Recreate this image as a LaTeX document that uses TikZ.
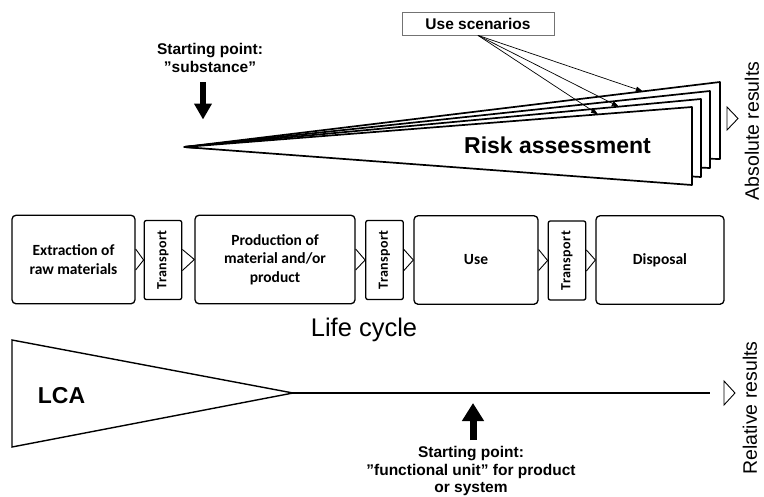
\documentclass[tikz,border=0pt]{standalone}
\usepackage{graphicx}
\usepackage{fontspec}
\setmainfont{Liberation Sans}
\newfontfamily\carl{Carlito}
\newfontfamily\carlsp[LetterSpace=3]{Carlito}
\usetikzlibrary{arrows.meta,calc}
\begin{document}
\begin{tikzpicture}[x=1pt,y=-1pt,
  stagebox/.style={draw, line width=1.3pt, rounded corners=4pt, align=center, inner sep=0pt,
    minimum height=88.5pt, font=\carl\bfseries\fontsize{15.5}{18.5}\selectfont},
  transbox/.style={draw, line width=1.3pt, rounded corners=2pt, inner sep=0pt,
    minimum width=37.5pt, minimum height=79pt, font=\carlsp\bfseries\fontsize{14}{16}\selectfont},
  opentri/.style={draw, line width=0.9pt, line join=miter},
  wedge/.style={draw, fill=white, line width=1.7pt, line join=bevel},
  fanarrow/.style={line width=0.7pt, -{Triangle[length=7pt,width=5pt]}},
  boldlabel/.style={align=center, inner sep=0pt, font=\bfseries\fontsize{15.5}{18}\selectfont},
  sidelabel/.style={rotate=90, inner sep=0pt, font=\fontsize{19.5}{22}\selectfont}
]
\useasboundingbox (0,0) rectangle (764,496);

% ---------- Risk assessment part ----------
\coordinate (apex) at (184,147);
\coordinate (w4t) at (720,82);  \coordinate (w4b) at (720,159);
\coordinate (w3t) at (710,91);  \coordinate (w3b) at (710,168);
\coordinate (w2t) at (701,99);  \coordinate (w2b) at (701,177);
\coordinate (w1t) at (692,107); \coordinate (w1b) at (692,185);
\path[wedge] (apex) -- (w4t) -- (w4b) -- cycle;
\path[wedge] (apex) -- (w3t) -- (w3b) -- cycle;
\path[wedge] (apex) -- (w2t) -- (w2b) -- cycle;
\path[wedge] (apex) -- (w1t) -- (w1b) -- cycle;
\node[anchor=base, inner sep=0pt, font=\bfseries\fontsize{23}{26}\selectfont] (risk) at (557.5,153) {Risk assessment};

\node[draw=black!55, line width=0.8pt, minimum width=152pt, minimum height=23pt, inner sep=0pt,
      font=\bfseries\fontsize{15.5}{18}\selectfont] (us) at (478,23.5) {Use scenarios};
\coordinate (f4) at ($(apex)!0.856!(w4t)$);
\coordinate (f2) at ($(apex)!0.841!(w2t)$);
\coordinate (f1) at ($(apex)!0.815!(w1t)$);
\draw[fanarrow] (us.south) -- (f4);
\draw[fanarrow] (us.south) -- (f2);
\draw[fanarrow] (us.south) -- (f1);

\node[boldlabel] (sp1) at (210,58) {Starting point:\\”substance”};
\coordinate (a1s) at (203,82);
\coordinate (a1e) at (203,119.5);
\draw[line width=6pt, -{Triangle[length=16pt,width=17pt]}] (a1s) -- (a1e);

\draw[opentri] (727,107) -- (738,118.5) -- (727,130) -- cycle;
\node[sidelabel] (abs) at (752,131) {Absolute results};

% ---------- Life cycle chain ----------
\node[stagebox, minimum width=123pt] (ex) at (73.5,259.5) {Extraction of\\raw materials};
\node[transbox] (t1) at (163,260) {\rotatebox{90}{Transport}};
\node[stagebox, minimum width=160pt] (pr) at (275,259.5) {Production of\\material and/or\\product};
\node[transbox] (t2) at (384.5,260) {\rotatebox{90}{Transport}};
\node[stagebox, minimum width=124pt] (use) at (476,260) {Use};
\node[transbox] (t3) at (567,260.5) {\rotatebox{90}{Transport}};
\node[stagebox, minimum width=128pt] (dis) at (660,260) {Disposal};

\draw[opentri] ($(ex.east)+(0,-10.5)$) -- (t1.west) -- ($(ex.east)+(0,10.5)$);
\draw[opentri] ($(t1.east)+(0,-10.5)$) -- (pr.west) -- ($(t1.east)+(0,10.5)$);
\draw[opentri] ($(pr.east)+(0,-10.5)$) -- (t2.west) -- ($(pr.east)+(0,10.5)$);
\draw[opentri] ($(t2.east)+(0,-10.5)$) -- (use.west) -- ($(t2.east)+(0,10.5)$);
\draw[opentri] ($(use.east)+(0,-10.5)$) -- (t3.west) -- ($(use.east)+(0,10.5)$);
\draw[opentri] ($(t3.east)+(0,-10.5)$) -- (dis.west) -- ($(t3.east)+(0,10.5)$);

\node[anchor=base, inner sep=0pt, font=\fontsize{25.5}{28}\selectfont] (lc) at (364,336) {Life cycle};

% ---------- LCA part ----------
\coordinate (lcat) at (12,340);
\coordinate (lcab) at (12,447);
\coordinate (lcaapex) at (293,393);
\coordinate (lcaend) at (710,393);
\draw[line width=1.4pt, line join=miter] (lcat) -- (lcaapex) -- (lcab) -- cycle;
\node[anchor=base, inner sep=0pt, font=\bfseries\fontsize{23}{26}\selectfont] (lca) at (61.5,403) {LCA};
\draw[line width=2.2pt] (lcaapex) -- (lcaend);
\draw[opentri] (724,381) -- (735,393) -- (724,405) -- cycle;
\node[sidelabel] (rel) at (750,408) {Relative results};

\node[boldlabel, font=\bfseries\fontsize{15.5}{17.5}\selectfont] (sp2) at (471,471) {Starting point:\\”functional unit” for product\\or system};
\coordinate (a2s) at (473,440);
\coordinate (a2e) at (473,403);
\draw[line width=7pt, -{Triangle[length=18pt,width=21pt]}] (a2s) -- (a2e);
\end{tikzpicture}
\end{document}
